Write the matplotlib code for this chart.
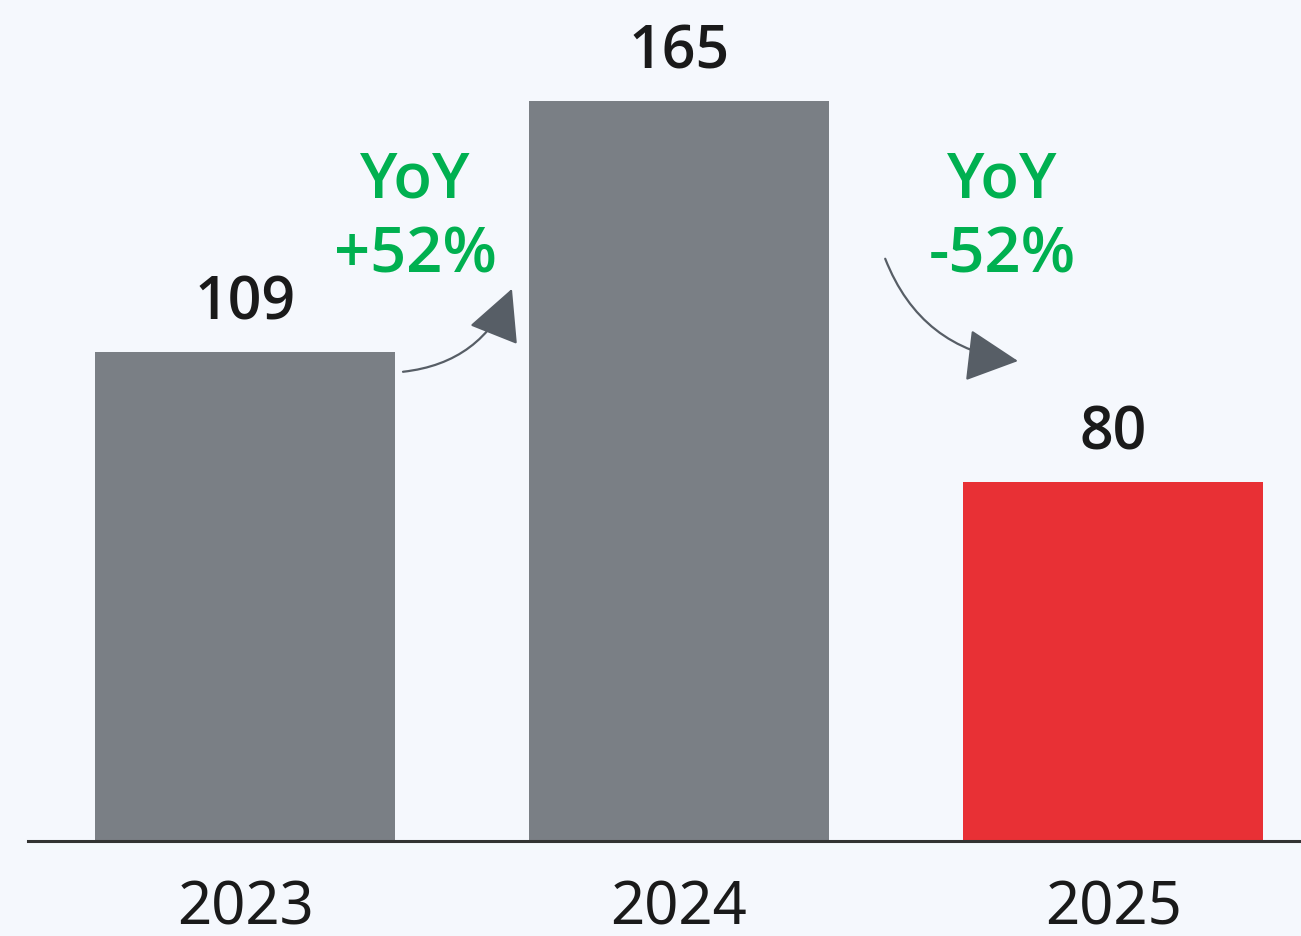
import matplotlib.pyplot as plt

years = ["2023", "2024", "2025"]
values = [109, 165, 80]
bar_colors = ["#7a7f85", "#7a7f85", "#e83035"]
yoy_labels = ["YoY\n+52%", "YoY\n-52%"]

plt.rcParams['font.family'] = ['Noto Sans', 'DejaVu Sans']
bold_font = ['Open Sans', 'Noto Sans', 'DejaVu Sans']
bg = "#f5f8fd"
green = "#00b050"
arrow_c = "#575e66"

fig = plt.figure(figsize=(13.01, 9.37), dpi=100, facecolor=bg)
ax = fig.add_axes([28 / 1301, 95 / 937, 1 - 28 / 1301, 842 / 937])
ax.set_facecolor(bg)

x = list(range(len(years)))
bars = ax.bar(x, values, width=0.691, color=bar_colors, zorder=2)
ax.set_xlim(-0.5, 2.433)
ax.set_ylim(0, 187.7)

# value labels above bars
for xi, v in zip(x, values):
    ax.annotate(str(v), (xi, v), xytext=(0, 24), textcoords="offset points",
                ha="center", va="baseline", fontsize=42.5, fontweight=600,
                family=bold_font, color="#1a1a1a")

ax.set_xticks(x)
ax.set_xticklabels(years, fontsize=43, color="#1a1a1a")
ax.tick_params(axis="x", length=0, pad=26)
ax.set_yticks([])
for s in ["top", "left", "right"]:
    ax.spines[s].set_visible(False)
ax.spines["bottom"].set_color("#333333")
ax.spines["bottom"].set_linewidth(2.2)

# YoY text between bars
ax.text(0.392, 139.0, yoy_labels[0], ha="center", va="center", fontsize=45.5,
        fontweight=600, family=bold_font, color=green, linespacing=1.25)
ax.text(1.744, 139.0, yoy_labels[1], ha="center", va="center", fontsize=45.5,
        fontweight=600, family=bold_font, color=green, linespacing=1.25)

# curved arrows
ax.annotate("", xy=(0.615, 123.1), xytext=(0.364, 104.6),
            arrowprops=dict(arrowstyle="-|>,head_length=0.75,head_width=0.38",
                            mutation_scale=44, color=arrow_c, lw=1.6,
                            connectionstyle="arc3,rad=0.3", shrinkA=0, shrinkB=0))
ax.annotate("", xy=(1.781, 107.0), xytext=(1.475, 129.8),
            arrowprops=dict(arrowstyle="-|>,head_length=0.75,head_width=0.38",
                            mutation_scale=44, color=arrow_c, lw=1.6,
                            connectionstyle="arc3,rad=0.3", shrinkA=0, shrinkB=0))

fig.savefig("out.png", dpi=100, facecolor=bg)
